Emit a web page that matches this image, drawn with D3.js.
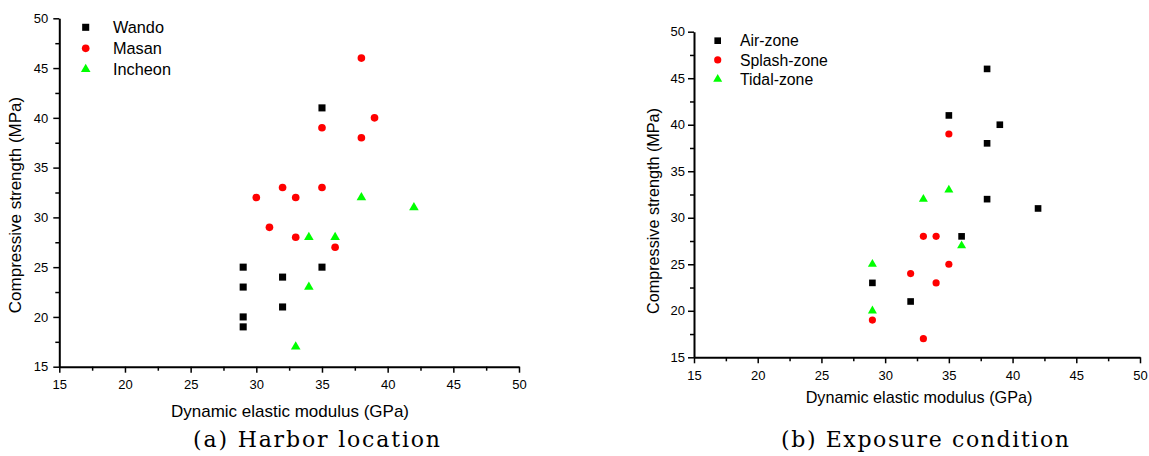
<!DOCTYPE html>
<html>
<head>
<meta charset="utf-8">
<script src="https://cdn.jsdelivr.net/npm/d3@7"></script>
<style>
  html, body { margin: 0; padding: 0; background: #fff; }
  svg { display: block; }
  text { font-family: "Liberation Sans", Arial, sans-serif; fill: #000; }
</style>
</head>
<body>
<svg id="chart" width="1149" height="456"></svg>
<script>
// ---- tick values ----
const majorTicks = [15, 20, 25, 30, 35, 40, 45, 50];
const minorTicks = [17.5, 22.5, 27.5, 32.5, 37.5, 42.5, 47.5];

// ---- panel (a) Harbor location ----
const wandoE   = [35, 35, 32, 32, 29, 29, 29, 29];
const wandoS   = [41, 25, 24, 21, 25, 23, 20, 19];
const masanE   = [38, 39, 35, 38, 32, 35, 30, 33, 31, 33, 36];
const masanS   = [46, 40, 39, 38, 33, 33, 32, 32, 29, 28, 27];
const incheonE = [38, 42, 34, 36, 34, 33];
const incheonS = [32, 31, 28, 28, 23, 17];

// ---- panel (b) Exposure condition ----
const airE    = [38, 35, 39, 38, 38, 42, 36, 29, 32];
const airS    = [46, 41, 40, 38, 32, 31, 28, 23, 21];
const splashE = [35, 33, 34, 35, 32, 34, 29, 33];
const splashS = [39, 28, 28, 25, 24, 23, 19, 17];
const tidalE  = [33, 35, 36, 29, 29];
const tidalS  = [32, 33, 27, 25, 20];

const xTitle = "Dynamic elastic modulus (GPa)";
const yTitle = "Compressive strength (MPa)";

const svg = d3.select("#chart");
svg.append("rect").attr("width", 1149).attr("height", 456).attr("fill", "#fff");

const symbolDefs = {
  square:   { type: d3.symbolSquare,   size: 50, color: "#000000" },
  circle:   { type: d3.symbolCircle,   size: 46, color: "#FF0000" },
  triangle: { type: d3.symbolTriangle, size: 40, color: "#00FF00" }
};

function drawPanel(o) {
  const g = svg.append("g");
  const x = d3.scaleLinear().domain([15, 50]).range([o.x0, o.x1]);
  const y = d3.scaleLinear().domain([15, 50]).range([o.y0, o.y1]);

  // minor ticks
  g.append("g").attr("transform", `translate(0,${o.y0})`)
    .call(d3.axisBottom(x).tickValues(minorTicks).tickSize(4).tickFormat(""))
    .call(a => a.select(".domain").remove())
    .call(a => a.selectAll("line").attr("stroke", "#000").attr("stroke-width", 1.5));
  g.append("g").attr("transform", `translate(${o.x0},0)`)
    .call(d3.axisLeft(y).tickValues(minorTicks).tickSize(4).tickFormat(""))
    .call(a => a.select(".domain").remove())
    .call(a => a.selectAll("line").attr("stroke", "#000").attr("stroke-width", 1.5));

  // major axes
  const xa = g.append("g").attr("transform", `translate(0,${o.y0})`)
    .call(d3.axisBottom(x).tickValues(majorTicks).tickSize(6).tickSizeOuter(0).tickPadding(7).tickFormat(d3.format("d")));
  const ya = g.append("g").attr("transform", `translate(${o.x0},0)`)
    .call(d3.axisLeft(y).tickValues(majorTicks).tickSize(6).tickSizeOuter(0).tickPadding(o.ypad).tickFormat(d3.format("d")));
  [xa, ya].forEach(a => {
    a.select(".domain").attr("stroke", "#000").attr("stroke-width", 2);
    a.selectAll(".tick line").attr("stroke", "#000").attr("stroke-width", 1.5);
    a.selectAll(".tick text").attr("font-size", 13).attr("font-family", "Liberation Sans, Arial, sans-serif").attr("fill", "#000");
  });

  // data
  o.series.forEach(s => {
    const def = symbolDefs[s.symbol];
    const sym = d3.symbol().type(def.type).size(def.size * o.msc);
    g.append("g").selectAll("path")
      .data(s.e.map((v, i) => [v, s.s[i]]))
      .join("path")
      .attr("d", sym)
      .attr("transform", d => `translate(${x(d[0])},${y(d[1])})`)
      .attr("fill", def.color);
  });

  // legend
  o.series.forEach((s, i) => {
    const def = symbolDefs[s.symbol];
    const ly = o.legY + i * o.legDy;
    g.append("path")
      .attr("d", d3.symbol().type(def.type).size(def.size * o.msc)())
      .attr("transform", `translate(${o.legX},${ly})`)
      .attr("fill", def.color);
    g.append("text")
      .attr("x", o.legTextX).attr("y", ly).attr("dy", "0.36em")
      .attr("font-size", o.legFont)
      .text(s.name);
  });

  // axis titles
  g.append("text")
    .attr("x", o.xtX).attr("y", o.xtY)
    .attr("text-anchor", "middle").attr("font-size", o.titleFont)
    .text(xTitle);
  g.append("text")
    .attr("transform", `translate(${o.ytX},${o.ytY}) rotate(-90)`)
    .attr("text-anchor", "middle").attr("dy", "0.36em").attr("font-size", o.titleFont)
    .text(yTitle);

  // caption
  g.append("text")
    .attr("x", o.capX0).attr("y", o.capY)
    .attr("font-size", 22)
    .attr("textLength", o.capW).attr("lengthAdjust", "spacing")
    .style("font-family", "'DejaVu Serif', 'Liberation Serif', serif")
    .text(o.caption);
}

drawPanel({
  x0: 59.3, x1: 519, y0: 366.7, y1: 18.3, ypad: 5, msc: 1.0,
  series: [
    { name: "Wando",   symbol: "square",   e: wandoE,   s: wandoS },
    { name: "Masan",   symbol: "circle",   e: masanE,   s: masanS },
    { name: "Incheon", symbol: "triangle", e: incheonE, s: incheonS }
  ],
  legX: 85.7, legY: 27.3, legDy: 21, legTextX: 113, legFont: 16.3,
  titleFont: 17, xtX: 290, xtY: 417, ytX: 15, ytY: 205,
  caption: "(a) Harbor location", capX0: 193, capW: 247, capY: 447
});

drawPanel({
  x0: 694, x1: 1140, y0: 357.3, y1: 31.7, ypad: 3, msc: 0.88,
  series: [
    { name: "Air-zone",    symbol: "square",   e: airE,    s: airS },
    { name: "Splash-zone", symbol: "circle",   e: splashE, s: splashS },
    { name: "Tidal-zone",  symbol: "triangle", e: tidalE,  s: tidalS }
  ],
  legX: 717.7, legY: 40.7, legDy: 19.2, legTextX: 740, legFont: 15.8,
  titleFont: 16.2, xtX: 919, xtY: 403, ytX: 653, ytY: 211,
  caption: "(b) Exposure condition", capX0: 781, capW: 288, capY: 447
});
</script>
</body>
</html>
